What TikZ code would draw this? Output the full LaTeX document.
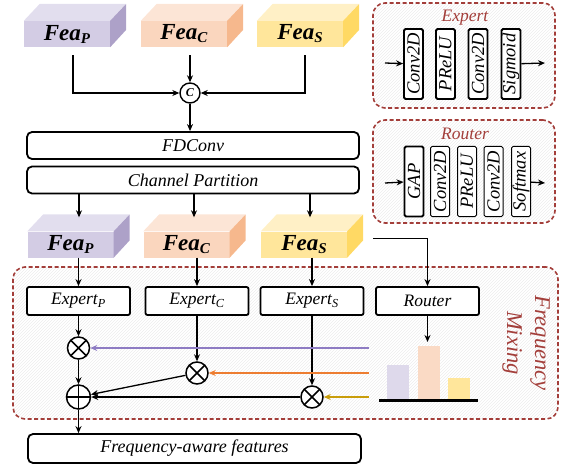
\documentclass[tikz,border=0pt]{standalone}
\usepackage{fontspec}
\setmainfont{Liberation Serif}
\usepackage{xcolor}
\definecolor{pfront}{RGB}{211,204,228}
\definecolor{ptop}{RGB}{226,222,238}
\definecolor{pside}{RGB}{173,161,200}
\definecolor{cfront}{RGB}{250,214,190}
\definecolor{ctop}{RGB}{252,229,214}
\definecolor{cside}{RGB}{246,184,141}
\definecolor{sfront}{RGB}{255,230,155}
\definecolor{stop}{RGB}{255,240,198}
\definecolor{sside}{RGB}{255,217,100}
\definecolor{dashred}{RGB}{163,62,58}
\definecolor{lineP}{RGB}{142,124,195}
\definecolor{lineC}{RGB}{237,125,49}
\definecolor{lineS}{RGB}{201,157,10}
\usepackage{tikz}
\usetikzlibrary{arrows.meta,patterns}
\tikzstyle{every picture}+=[x=1pt, y=-1pt, >={Stealth[length=7pt,width=6pt]}]
\tikzstyle{conn} = [->, line width=1.3pt]
\tikzstyle{cube} = [minimum width=86pt, minimum height=26pt, inner sep=0pt]
\tikzstyle{block} = [draw=black, line width=1.8pt, rounded corners=5pt, fill=white, minimum width=332pt, minimum height=27pt, inner sep=0pt, font=\fontsize{18}{20}\selectfont\itshape]
\tikzstyle{expbox} = [draw=black, line width=1.8pt, rounded corners=2pt, fill=white, minimum width=103pt, minimum height=28pt, inner sep=0pt, font=\fontsize{17.5}{20}\selectfont\itshape]
\tikzstyle{layer} = [draw=black, line width=1.8pt, rounded corners=1.5pt, fill=white, rotate=90, minimum width=70pt, minimum height=19pt, inner sep=0pt, font=\fontsize{18.5}{19}\selectfont\itshape]
\tikzstyle{thinlayer} = [layer, line width=1pt]
\tikzstyle{region} = [draw=dashred, line width=1.6pt, dash pattern=on 4pt off 2.5pt, rounded corners=12pt, pattern=north east lines, pattern color=black!7, inner sep=0pt]
\tikzstyle{title} = [text=dashred, font=\fontsize{17.5}{20}\selectfont\itshape]
\tikzstyle{mult} = [circle, draw=black, line width=1.5pt, minimum size=22pt, inner sep=0pt, fill=white,
  path picture={\draw[line width=1.5pt] (path picture bounding box.south west) -- (path picture bounding box.north east)
  (path picture bounding box.north west) -- (path picture bounding box.south east);}]
\tikzstyle{plus} = [circle, draw=black, line width=1.5pt, minimum size=24pt, inner sep=0pt, fill=white,
  path picture={\draw[line width=1.5pt] (path picture bounding box.north) -- (path picture bounding box.south)
  (path picture bounding box.west) -- (path picture bounding box.east);}]
\newcommand{\feaname}[1]{\fontsize{23}{24}\selectfont\textbf{\textit{Fea}}\raisebox{-3pt}{\fontsize{15}{15}\selectfont\textbf{\textit{#1}}}}
\newcommand{\cubefaces}[3]{%
  \fill[#2] (#1.north west) -- ++(16,-17) -- ++(86,0) -- (#1.north east) -- cycle;
  \fill[#3] (#1.north east) -- ++(16,-17) -- ++(0,26) -- (#1.south east) -- cycle;}

\begin{document}
\begin{tikzpicture}
    \useasboundingbox (0,0) rectangle (564,465);

    % input features
    \node[cube, fill=pfront] (feaP1) at (67,34) {\feaname{P}};
    \node[cube, fill=cfront] (feaC1) at (184,34) {\feaname{C}};
    \node[cube, fill=sfront] (feaS1) at (300,34) {\feaname{S}};
    \cubefaces{feaP1}{ptop}{pside}
    \cubefaces{feaC1}{ctop}{cside}
    \cubefaces{feaS1}{stop}{sside}

    \node[circle, draw=black, line width=1.4pt, minimum size=20pt, inner sep=0pt, font=\fontsize{12}{12}\selectfont] (cat) at (190,93) {\textbf{\textit{C}}};
    \draw[conn] ([xshift=6pt,yshift=-8pt]feaP1.south) |- (cat);
    \draw[conn] (cat |- feaC1.south) ++(0,8) -- (cat);
    \draw[conn] ([xshift=5pt,yshift=-8pt]feaS1.south) |- (cat);

    \node[block] (fdconv) at (193,145.5) {FDConv};
    \node[block] (part) at (193,180) {Channel Partition};
    \draw[conn] (cat) -- (cat |- fdconv.north);

    % partitioned features
    \node[cube, fill=pfront] (feaP2) at (70.5,244.5) {\feaname{P}};
    \node[cube, fill=cfront] (feaC2) at (186.5,244.5) {\feaname{C}};
    \node[cube, fill=sfront] (feaS2) at (304,244.5) {\feaname{S}};
    \cubefaces{feaP2}{ptop}{pside}
    \cubefaces{feaC2}{ctop}{cside}
    \cubefaces{feaS2}{stop}{sside}
    \draw[conn] ([xshift=8.5pt]feaP2.north |- part.south) -- ([xshift=8.5pt,yshift=14pt]feaP2.north);
    \draw[conn] ([xshift=7.5pt]feaC2.north |- part.south) -- ([xshift=7.5pt,yshift=14pt]feaC2.north);
    \draw[conn] ([xshift=6pt]feaS2.north |- part.south) -- ([xshift=6pt,yshift=14pt]feaS2.north);

    % frequency mixing
    \node[region, minimum width=545pt, minimum height=152pt] (mixing) at (285.5,343) {};
    \node[text=dashred, rotate=-90, align=center, font=\fontsize{22.5}{28}\selectfont\itshape] (mixlabel) at (526,343) {Frequency\\Mixing};

    \node[expbox] (expP) at (78.5,301) {Expert\textsubscript{P}};
    \node[expbox] (expC) at (197,301) {Expert\textsubscript{C}};
    \node[expbox] (expS) at (312,301) {Expert\textsubscript{S}};
    \node[expbox] (router) at (427.5,301) {Router};

    \draw[conn] (expP |- feaP2.south) -- (expP);
    \draw[conn] (expC |- feaC2.south) -- (expC);
    \draw[conn] (expS |- feaS2.south) -- (expS);
    \draw[conn] ([xshift=26pt,yshift=6pt]feaS2.east) -| (router);

    \node[mult] (mulP) at (78.5,348) {};
    \node[mult] (mulC) at (197,373) {};
    \node[mult] (mulS) at (312,397) {};
    \node[plus] (add) at (78.5,397) {};

    \coordinate (wP) at (369,348);
    \coordinate (wC) at (369,373);
    \coordinate (wS) at (369,397);
    \coordinate (weights) at (427.5,342);

    \draw[conn] (expP) -- (mulP);
    \draw[conn] (expC) -- (mulC);
    \draw[conn] (expS) -- (mulS);
    \draw[conn] (mulP) -- (add);
    \draw[conn] (mulC) -- (add);
    \draw[conn] (mulS) -- (add);
    \draw[conn, line width=1.8pt, draw=lineP] (wP) -- (mulP);
    \draw[conn, line width=1.8pt, draw=lineC] (wC) -- (mulC);
    \draw[conn, line width=1.8pt, draw=lineS] (wS) -- (mulS);
    \draw[conn] (router) -- (weights);

    % routing weights
    \fill[pfront!75] (387,400) rectangle (409,365);
    \fill[cfront!90] (418,400) rectangle (440,346);
    \fill[sfront] (448,400) rectangle (470,378);
    \draw[line width=3pt] (379,400) -- (478,400);

    \node[block, minimum width=333pt, minimum height=29pt] (freq) at (194.5,448.5) {Frequency-aware features};
    \draw[conn] (add) -- (add |- freq.north);

    % expert
    \node[region, minimum width=182pt, minimum height=105pt] (expertbox) at (464,55.5) {};
    \node[title] (experttitle) at (465,18) {Expert};
    \node[layer] (e1) at (413.5,64) {Conv2D};
    \node[layer] (e2) at (445.5,64) {PReLU};
    \node[layer] (e3) at (478,64) {Conv2D};
    \node[layer] (e4) at (511,64) {Sigmoid};
    \coordinate (ein) at (385,63);
    \coordinate (eout) at (545,63);
    \draw[conn] (ein) -- (e1);
    \draw[conn] (e4) -- (eout);

    % router
    \node[region, minimum width=182pt, minimum height=103pt] (routerbox) at (464,171.5) {};
    \node[title] (routertitle) at (465,134) {Router};
    \node[layer] (r1) at (414,181.5) {GAP};
    \node[thinlayer] (r2) at (440,181.5) {Conv2D};
    \node[thinlayer] (r3) at (467,181.5) {PReLU};
    \node[thinlayer] (r4) at (493.5,181.5) {Conv2D};
    \node[thinlayer] (r5) at (521,181.5) {Softmax};
    \coordinate (rin) at (385,183);
    \coordinate (rout) at (545,183);
    \draw[conn] (rin) -- (r1);
    \draw[conn] (r5) -- (rout);
  \end{tikzpicture}
\end{document}
